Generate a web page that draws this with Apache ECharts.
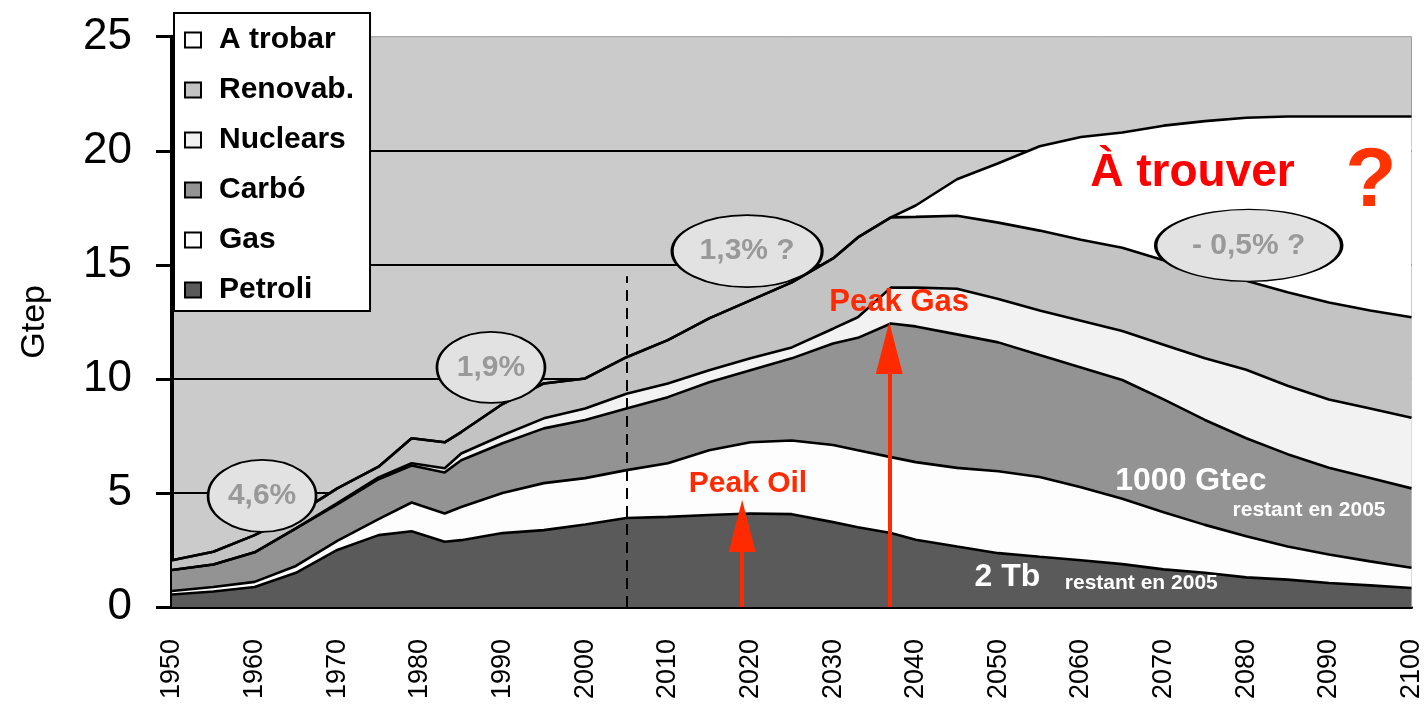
<!DOCTYPE html>
<html><head><meta charset="utf-8">
<script src="https://cdn.jsdelivr.net/npm/echarts@6/dist/echarts.min.js"></script>
<style>html,body{margin:0;padding:0;background:#fff}#c{width:1425px;height:713px}</style>
</head><body><div id="c"></div>
<script>
// ---- data (Gtep, layer thickness per year) ----
const years    = [1950,1955,1960,1965,1970,1975,1979,1983,1985,1990,1995,2000,2005,2010,2015,2020,2025,2030,2033,2037,2040,2045,2050,2055,2060,2065,2070,2075,2080,2085,2090,2095,2100];
const petroli  = [0.55,0.68,0.88,1.50,2.50,3.15,3.32,2.86,2.93,3.24,3.37,3.62,3.90,3.95,4.03,4.10,4.07,3.72,3.50,3.24,2.95,2.65,2.36,2.20,2.05,1.88,1.65,1.50,1.30,1.20,1.05,0.95,0.83];
const gas      = [0.15,0.20,0.22,0.30,0.40,0.70,1.26,1.24,1.45,1.76,2.06,2.03,2.10,2.35,2.84,3.12,3.23,3.38,3.37,3.33,3.40,3.45,3.59,3.50,3.20,2.87,2.50,2.10,1.80,1.45,1.25,1.05,0.89];
const carbo    = [0.92,0.98,1.30,1.65,1.60,1.75,1.62,1.80,2.05,2.18,2.40,2.55,2.70,2.90,2.98,3.16,3.60,4.45,4.93,5.86,5.95,5.85,5.65,5.35,5.25,5.20,4.95,4.60,4.30,4.05,3.80,3.65,3.48];
const nuclears = [0,0,0,0,0.05,0.08,0.10,0.18,0.30,0.35,0.44,0.50,0.65,0.60,0.53,0.52,0.48,0.65,0.90,1.57,1.70,2.00,1.90,1.95,2.05,2.15,2.40,2.70,3.00,3.00,3.00,3.05,3.10];
const renovab  = [0.43,0.56,0.75,0.60,0.65,0.47,1.10,1.14,0.94,1.37,1.53,1.32,1.60,1.90,2.27,2.54,2.85,3.08,3.50,3.08,3.10,3.20,3.35,3.50,3.55,3.65,3.70,3.80,3.90,4.10,4.25,4.30,4.40];
const atrobar  = [0,0,0,0,0,0,0,0,0,0,0,0,0,0,0,0,0,0,0,0,0.50,1.60,2.60,3.70,4.50,5.05,5.90,6.60,7.15,7.70,8.15,8.50,8.80];
const seriesNames = ['Petroli','Gas','Carbó','Nuclears','Renovab.','A trobar'];
const yTicks = [0,5,10,15,20,25];
const xTicks = [1950,2100,10];

const layerValues = [petroli, gas, carbo, nuclears, renovab, atrobar];
const layerColors = ['#5a5a5a','#fdfdfd','#939393','#f2f2f2','#c3c3c3','#ffffff'];

const FONT = 'Liberation Sans, Arial, sans-serif';
const chart = echarts.init(document.getElementById('c'), null, {renderer:'canvas'});

function txt(name, coord, color, size, weight){
  return {name, coord, symbol:'rect', symbolSize:1,
    itemStyle:{color:'rgba(0,0,0,0)'},
    label:{show:true, position:'inside', formatter:'{b}', color, fontSize:size, fontWeight:weight||'bold', fontFamily:FONT}};
}
function bubble(name, coord, size){
  return {name, coord, symbol:'circle', symbolSize:size,
    itemStyle:{color:'#e2e2e2', borderColor:'#000', borderWidth:2.2},
    label:{show:true, position:'inside', formatter:'{b}', color:'#999', fontSize:30, fontWeight:'bold', fontFamily:FONT}};
}

// cumulative tops (stack computed here, each area filled down to the axis)
const running = years.map(()=>0);
const tops = layerValues.map(vals => vals.map((v,j)=> (running[j] = +(running[j] + v).toFixed(3))));

const series = [];
for (let i = seriesNames.length - 1; i >= 0; i--) {
  series.push({
    name: seriesNames[i], type:'line', symbol:'none', showSymbol:false,
    data: years.map((y,j)=>[y, tops[i][j]]),
    lineStyle:{color:'#000', width:2.6},
    itemStyle:{color:layerColors[i]},
    areaStyle:{color:layerColors[i], opacity:1, origin:'start'},
    emphasis:{disabled:true},
    z: 2
  });
}
const base = series[series.length - 1]; // Petroli

base.markLine = {
  silent:true, symbol:'none', animation:false,
  label:{show:false},
  data:[
    [{coord:[2005,0], symbol:'none', lineStyle:{color:'#000', width:2, type:[11,7]}},
     {coord:[2005,14.5], symbol:'none'}],
    [{coord:[2019,0], symbol:'none', lineStyle:{color:'#ff2a00', width:4, type:'solid'}},
     {coord:[2019,3.55], symbol:'triangle', symbolSize:[27,52]}],
    [{coord:[2036.8,0], symbol:'none', lineStyle:{color:'#ff2a00', width:4, type:'solid'}},
     {coord:[2036.8,11.35], symbol:'triangle', symbolSize:[27,52]}]
  ]
};
base.markPoint = {
  silent:true, animation:false,
  data:[
    bubble('4,6%', [1960.9,4.87], [108,72]),
    bubble('1,9%', [1988.6,10.5], [108,71]),
    bubble('1,3% ?', [2019.6,15.6], [150,72]),
    bubble('- 0,5% ?', [2080.3,15.85], [186,72]),
    txt('À trouver', [2073.5,19.0], '#ff0000', 46),
    txt('?', [2095.1,18.6], '#ff3300', 84),
    txt('Peak Gas', [2038.0,13.33], '#ff2a00', 31),
    txt('Peak Oil', [2019.7,5.39], '#ff2a00', 30),
    txt('1000 Gtec', [2073.3,5.52], '#ffffff', 32),
    txt('restant en 2005', [2087.6,4.25], '#ffffff', 21),
    txt('2 Tb', [2051.1,1.32], '#ffffff', 32),
    txt('restant en 2005', [2067.3,1.05], '#ffffff', 21)
  ]
};

const legendOrder = seriesNames.slice().reverse();
chart.setOption({
  animation:false,
  backgroundColor:'#ffffff',
  textStyle:{fontFamily:FONT},
  grid:{left:172, right:7, top:36.7, bottom:106, show:true, backgroundColor:'#cbcbcb', borderColor:'#9a9a9a', borderWidth:1},
  legend:{
    orient:'vertical', left:174, top:13,
    data: legendOrder.map(n=>({name:n, icon:'rect',
      itemStyle:{color:layerColors[seriesNames.indexOf(n)], borderColor:'#000', borderWidth:2}})),
    itemWidth:16, itemHeight:15, itemGap:20,
    backgroundColor:'#ffffff', borderColor:'#000', borderWidth:2,
    padding:[12,16,6,10],
    selectedMode:false,
    textStyle:{fontSize:30, fontWeight:'bold', color:'#000', fontFamily:FONT, lineHeight:30, padding:[0,0,0,13]}
  },
  xAxis:{
    type:'value', min:xTicks[0], max:xTicks[1], interval:xTicks[2],
    axisLine:{show:true, lineStyle:{color:'#000', width:3}},
    axisTick:{show:false},
    splitLine:{show:false},
    axisLabel:{rotate:90, fontSize:27, color:'#000', margin:32, fontFamily:FONT, formatter:v=>String(v)}
  },
  yAxis:{
    type:'value', min:yTicks[0], max:yTicks[yTicks.length-1], interval:yTicks[1]-yTicks[0],
    name:'Gtep', nameLocation:'middle', nameGap:120, nameRotate:90,
    nameTextStyle:{fontSize:34, color:'#000', fontFamily:FONT},
    axisLine:{show:true, lineStyle:{color:'#000', width:4}},
    axisTick:{show:true, inside:false, length:16, lineStyle:{color:'#000', width:3}},
    axisLabel:{fontSize:44, color:'#000', margin:40, fontFamily:FONT},
    splitLine:{show:true, showMinLine:false, showMaxLine:false, lineStyle:{color:'#000', width:2}}
  },
  series
});
</script>
</body></html>
